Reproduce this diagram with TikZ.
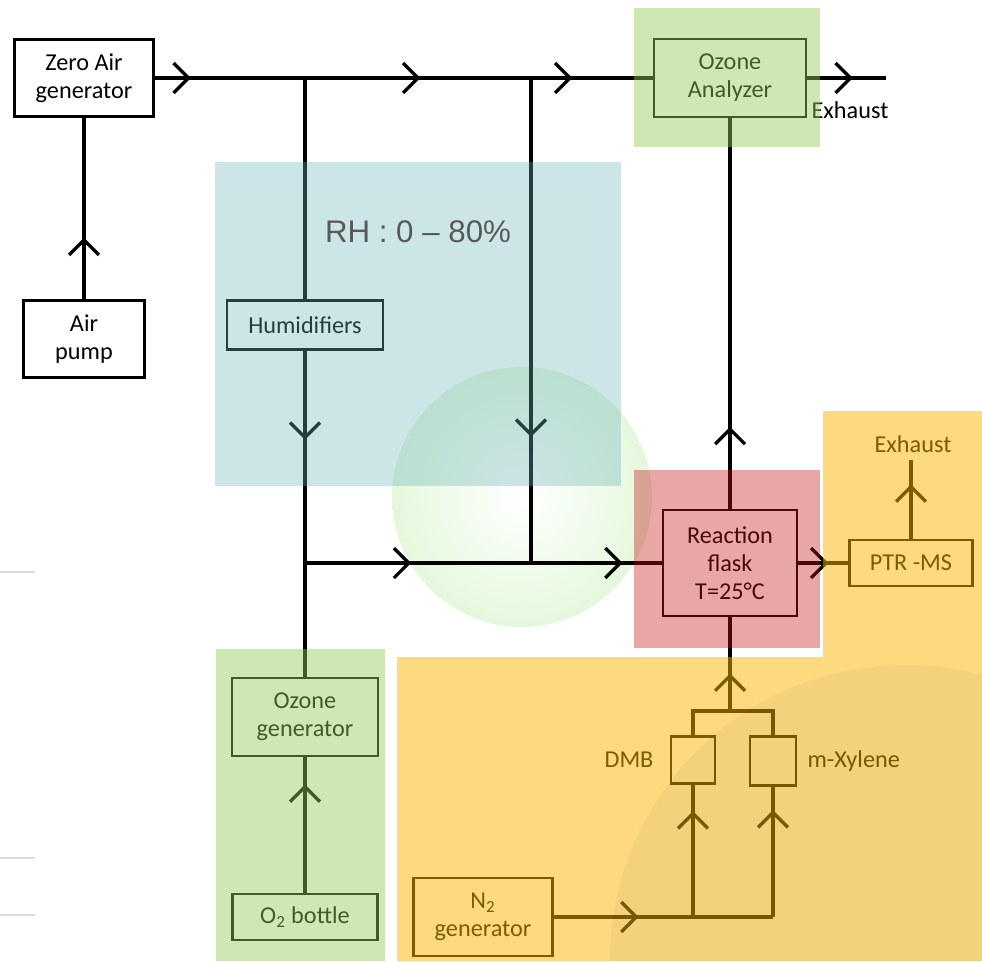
\documentclass[tikz,border=0pt]{standalone}
\usepackage{fontspec}
\setmainfont{Carlito}
\newfontfamily\rhfont{Liberation Sans}
\usetikzlibrary{positioning,arrows.meta,decorations.markings}

\definecolor{bluebg}{RGB}{110,180,185}
\definecolor{greenbg}{RGB}{144,204,80}
\definecolor{redbg}{RGB}{195,21,21}
\definecolor{yellowbg}{RGB}{251,181,0}
\definecolor{spheregreen}{RGB}{228,248,220}
\definecolor{rhgray}{RGB}{89,89,89}

\tikzset{
    unit/.style={draw, line width=1.4pt, align=center, inner sep=0pt,
        font=\fontsize{13.8}{16}\selectfont},
    lbl/.style={inner sep=0pt, font=\fontsize{13.8}{16}\selectfont},
    pipe/.style={line width=1.9pt},
    flow/.style={pipe, postaction={decorate, decoration={markings,
        mark=at position #1 with {\arrow{Straight Barb[length=8.5pt,width=17pt]}}}}},
}

\begin{document}
\begin{tikzpicture}[x=0.02cm, y=-0.02cm]
    \useasboundingbox (0,0) rectangle (982,961);
    % Sphere behind the lines
    \shade[inner color=white, outer color=spheregreen] (522,497) circle[radius=2.6cm];
    \foreach \yy in {572,858,915} {
        \draw[black!14, line width=1pt] (0,\yy) -- (35,\yy);
    }
    % Units
    \node[unit, minimum width=2.78cm, minimum height=1.54cm] (zeroair) at (84,78) {Zero Air\\generator};
    \node[unit, minimum width=2.42cm, minimum height=1.54cm] (airpump) at (84,339) {Air\\pump};
    \node[unit, minimum width=3.04cm, minimum height=1.56cm] (analyzer) at (730,78) {Ozone\\Analyzer};
    \node[unit, minimum width=3.12cm, minimum height=0.98cm] (humid) at (305,325) {Humidifiers};
    \node[unit, minimum width=2.92cm, minimum height=1.56cm] (ozgen) at (305,717) {Ozone\\generator};
    \node[unit, minimum width=2.90cm, minimum height=0.92cm] (o2) at (305,917) {O\textsubscript{2} bottle};
    \node[unit, minimum width=2.68cm, minimum height=2.12cm] (flask) at (730,563) {Reaction\\flask\\T=25°C};
    \node[unit, minimum width=2.46cm, minimum height=0.92cm] (ptr) at (911,563) {PTR -MS};
    \node[unit, minimum width=2.78cm, minimum height=1.56cm] (n2) at (483,917) {N\textsubscript{2}\\generator};
    \node[unit, minimum width=0.88cm, minimum height=0.94cm] (dmb) at (693,760) {};
    \node[unit, minimum width=0.92cm, minimum height=0.98cm] (xyl) at (773,761) {};
    \node[lbl, left=0.32cm of dmb] (dmblbl) {DMB};
    \node[lbl, right=0.2cm of xyl] (xyllbl) {m-Xylene};
    \node[lbl] (exh1) at (850,110) {Exhaust};
    \node[lbl] (exh2) at (913,444) {Exhaust};
    % Junctions
    \coordinate (j1) at (305,78);
    \coordinate (j2) at (531,78);
    \coordinate (j3) at (305,563);
    \coordinate (j4) at (531,563);
    \coordinate (ex1) at (886,78);
    \coordinate (ex2) at (911,460);
    \coordinate (b1) at (693,711);
    \coordinate (bm) at (730,711);
    \coordinate (b2) at (773,711);
    \coordinate (j5) at (693,917);
    \coordinate (j6) at (773,917);
    % Air lines
    \draw[flow=0.34] (airpump) -- (zeroair);
    \draw[flow=0.24] (zeroair.east) -- (j1);
    \draw[flow=0.51] (j1) -- (j2);
    \draw[flow=0.34] (j2) -- (analyzer.west);
    \draw[flow=0.58] (analyzer.east) -- (ex1);
    \draw[pipe] (j1) -- (humid.north);
    \draw[flow=0.42] (humid.south) -- (j3);
    \draw[flow=0.74] (j2) -- (j4);
    \draw[flow=0.47] (j3) -- (j4);
    \draw[flow=0.70] (j4) -- (flask.west);
    \draw[pipe] (ozgen.north) -- (j3);
    \draw[flow=0.80] (o2.north) -- (ozgen.south);
    \draw[flow=0.21] (flask.north) -- (analyzer.south);
    \draw[flow=0.60] (flask.east) -- (ptr.west);
    \draw[flow=0.69] (ptr.north) -- (ex2);
    % VOC lines
    \draw[flow=0.40] (bm) -- (flask.south);
    \draw[pipe] (dmb.north) -- (b1) -- (b2) -- (xyl.north);
    \draw[flow=0.61] (n2.east) -- (j5);
    \draw[pipe] (j5) -- (j6);
    \draw[flow=0.80] (j5) -- (dmb.south);
    \draw[flow=0.82] (j6) -- (xyl.south);
    % Coloured zones
    \fill[bluebg, opacity=.35] (215,162) rectangle (621,486);
    \fill[greenbg, opacity=.45] (634,8) rectangle (820,147);
    \fill[greenbg, opacity=.45] (216,649) rectangle (385,961);
    \fill[redbg, opacity=.38] (634,470) rectangle (820,648);
    \fill[yellowbg, opacity=.5] (397,657) -- (823,657) -- (823,411) -- (982,411)
        -- (982,961) -- (397,961) -- cycle;
    \begin{scope}
        \clip (397,657) -- (823,657) -- (823,411) -- (982,411) -- (982,961) -- (397,961) -- cycle;
        \fill[black, opacity=.035] (905,960) circle[radius=5.9cm];
    \end{scope}
    \node[font=\rhfont\fontsize{17.8}{20}\selectfont, text=rhgray] (rh) at (418,232) {RH : 0 – 80\%};
\end{tikzpicture}
\end{document}
